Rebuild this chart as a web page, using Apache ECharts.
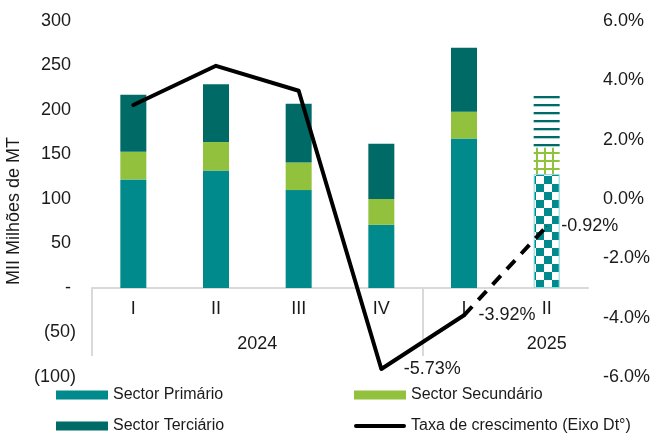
<!DOCTYPE html>
<html style="height: 100%">
<head>
  <meta charset="UTF-8">
  <title>Contribuição sectorial</title>
  <script src="https://cdn.jsdelivr.net/npm/echarts@6/dist/echarts.min.js"></script>
  <style>
    html, body {
      margin: 0;
      height: 100%;
      width: 100%;
      background: #fff;
    }
    #chart {
      width: 654px;
      height: 437px;
    }
  </style>
</head>
<body>
  <div id="chart"></div>

  <script>
    // dados
    const quarters = ['I', 'II', 'III', 'IV', 'I', 'II'];
    const yearLabels = ['', '', '', '', '2024', '', '', '', '', '', '', '2025', ''];
    const primario = [122, 132, 110, 71, 168, 128];
    const secundario = [31, 32, 31, 29, 30, 30];
    const terciario = [64, 65, 66, 62, 72, 61];
    const taxa = [3.17, 4.49, 3.65, -5.73, -3.92, -0.92];
    const labelled = [3, 4, 5];
    const forecastIndex = 5;

    const font = 'Liberation Sans, Arial, sans-serif';
    const textColor = '#1a1a1a';
    const cPrim = '#008a8b';
    const cSec = '#92c13e';
    const cTer = '#006a66';

    // eixo x fica no zero do eixo esquerdo (-100..300)
    const zeroOffset = -89;

    // padrões para o trimestre projectado
    function makePattern(w, h, draw) {
      const c = document.createElement('canvas');
      c.width = w;
      c.height = h;
      const ctx = c.getContext('2d');
      ctx.fillStyle = '#fff';
      ctx.fillRect(0, 0, w, h);
      draw(ctx);
      return { image: c, repeat: 'repeat' };
    }
    const checker = makePattern(16, 16, ctx => {
      ctx.fillStyle = cPrim;
      ctx.fillRect(0, 0, 8, 8);
      ctx.fillRect(8, 8, 8, 8);
    });
    const gridPat = makePattern(8, 8, ctx => {
      ctx.fillStyle = cSec;
      ctx.fillRect(0, 0, 8, 2);
      ctx.fillRect(0, 0, 2, 8);
    });
    const hLines = makePattern(8, 8, ctx => {
      ctx.fillStyle = cTer;
      ctx.fillRect(0, 0, 8, 2);
      ctx.fillStyle = '#a8d8d6';
      ctx.fillRect(0, 2, 8, 1);
    });

    function withPattern(arr, pattern, extra) {
      return arr.map((v, i) => i === forecastIndex
        ? { value: v, itemStyle: Object.assign({ color: pattern }, extra || {}) }
        : v);
    }

    function lineData(from, to) {
      return taxa.map((v, i) => {
        if (i < from || i > to) return null;
        if (labelled.indexOf(i) < 0) return v;
        return {
          value: v,
          symbol: 'circle',
          symbolSize: 1,
          label: { show: true, position: 'right', distance: i === 3 ? 22 : 14 }
        };
      });
    }

    const chart = echarts.init(document.getElementById('chart'));
    const lineLabel = {
      show: false,
      color: textColor,
      fontFamily: font,
      fontSize: 18,
      formatter: p => p.value.toFixed(2) + '%'
    };
    const legendBase = {
      top: 386, orient: 'vertical', padding: 0,
      itemWidth: 52, itemHeight: 9, itemGap: 13,
      textStyle: { fontSize: 16, color: textColor, lineHeight: 18 }
    };

    chart.setOption({
      animation: false,
      textStyle: { fontFamily: font },
      grid: { left: 92, right: 66, top: 21, bottom: 60, outerBoundsMode: 'none' },
      legend: [
        Object.assign({}, legendBase, {
          left: 56,
          data: [{ name: 'Sector Primário', icon: 'rect' }, { name: 'Sector Terciário', icon: 'rect' }]
        }),
        Object.assign({}, legendBase, {
          left: 354,
          data: [
            { name: 'Sector Secundário', icon: 'rect' },
            { name: 'Taxa de crescimento (Eixo Dt°)', icon: 'path://M2,0H50A2,2 0 0 1 50,4H2A2,2 0 0 1 2,0Z' }
          ]
        })
      ],
      xAxis: [
        {
          type: 'category',
          data: quarters,
          offset: zeroOffset,
          axisLine: { onZero: false, lineStyle: { color: '#d9d9d9', width: 2 } },
          axisTick: { show: false },
          axisLabel: { interval: 0, margin: 12, fontSize: 18, color: textColor }
        },
        {
          type: 'category',
          data: yearLabels,
          boundaryGap: false,
          position: 'bottom',
          offset: zeroOffset,
          axisLine: { show: false, onZero: false },
          axisTick: {
            show: true,
            length: 68,
            interval: i => i === 0 || i === 8,
            lineStyle: { color: '#d9d9d9', width: 2 }
          },
          axisLabel: { interval: 0, margin: 47, fontSize: 18, color: textColor }
        }
      ],
      yAxis: [
        {
          type: 'value',
          min: -100, max: 300, interval: 50,
          name: 'MII Milhões de MT',
          nameLocation: 'middle',
          nameGap: 66,
          nameTextStyle: { fontSize: 18, color: textColor, padding: [0, 24, 0, 0] },
          axisLine: { show: false },
          axisTick: { show: false },
          splitLine: { show: false },
          axisLabel: {
            margin: 16, fontSize: 18, color: textColor,
            formatter: v => v > 0 ? v + ' ' : v === 0 ? '- ' : '(' + (-v) + ')'
          }
        },
        {
          type: 'value',
          position: 'right',
          min: -6, max: 6, interval: 2,
          axisLine: { show: false },
          axisTick: { show: false },
          splitLine: { show: false },
          axisLabel: {
            margin: 15, fontSize: 18, color: textColor,
            formatter: v => v.toFixed(1) + '%'
          }
        }
      ],
      series: [
        {
          name: 'Sector Primário', type: 'bar', stack: 'total', barWidth: 26,
          itemStyle: { color: cPrim },
          data: withPattern(primario, checker, { borderColor: '#7fdade', borderWidth: 1 })
        },
        {
          name: 'Sector Secundário', type: 'bar', stack: 'total', barWidth: 26,
          itemStyle: { color: cSec },
          data: withPattern(secundario, gridPat)
        },
        {
          name: 'Sector Terciário', type: 'bar', stack: 'total', barWidth: 26,
          itemStyle: { color: cTer },
          data: withPattern(terciario, hLines)
        },
        {
          name: 'Taxa de crescimento (Eixo Dt°)', type: 'line', yAxisIndex: 1,
          symbol: 'none', z: 5,
          itemStyle: { color: '#000' },
          lineStyle: { color: '#000', width: 4, cap: 'round', join: 'round' },
          label: lineLabel,
          data: lineData(0, 4)
        },
        {
          name: 'projecção', type: 'line', yAxisIndex: 1,
          symbol: 'none', z: 5,
          itemStyle: { color: '#000' },
          lineStyle: { color: '#000', width: 4, type: [12, 9] },
          label: lineLabel,
          data: lineData(4, 5).map((d, i) => i === 4 && d ? d.value : d)
        }
      ]
    });
  </script>
</body>
</html>
